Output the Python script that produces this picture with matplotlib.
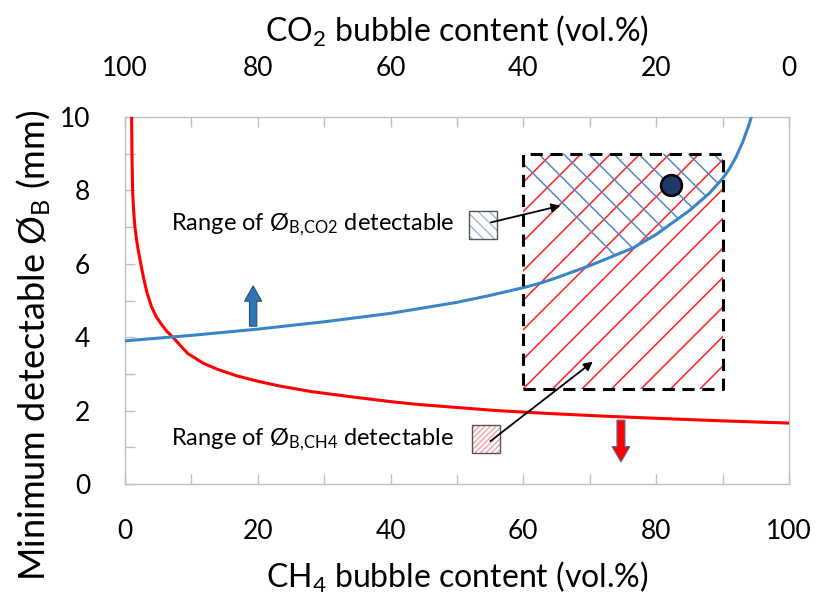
import numpy as np
import matplotlib
matplotlib.use("Agg")
import matplotlib.pyplot as plt
from matplotlib.patches import Rectangle, Polygon

plt.rcParams['font.family'] = ['Lato', 'DejaVu Sans']
plt.rcParams['mathtext.default'] = 'regular'

# CH4 content (vol.%) vs minimum detectable bubble diameter for CH4 (red)
ch4_x = [1.0, 1.05, 1.15, 1.3, 1.5, 1.75, 2.0, 2.4, 2.76, 3.3, 4.0, 4.7, 5.5, 6.3, 7.28, 8.4, 9.5,
         11.8, 14, 16.8, 20, 23.3, 28, 33.9, 40, 44, 48.9, 56, 64, 72, 80, 90, 100]
ch4_d = [10.0, 9.0, 8.0, 7.45, 7.0, 6.65, 6.37, 5.98, 5.65, 5.22, 4.83, 4.56, 4.35, 4.16, 3.99, 3.76, 3.55,
         3.29, 3.12, 2.95, 2.8, 2.67, 2.52, 2.38, 2.245, 2.17, 2.1, 2.0, 1.92, 1.85, 1.79, 1.72, 1.66]

# same x axis (CH4 content), minimum detectable diameter for CO2 (blue)
co2_x = [0, 10, 20, 30, 40, 50, 55, 60, 62.5, 65, 70, 76.5, 80, 85, 88, 90, 91, 92, 93, 94, 95]
co2_d = [3.9, 4.05, 4.22, 4.42, 4.65, 4.95, 5.14, 5.35, 5.47, 5.62, 5.95, 6.43, 6.8, 7.45, 7.92, 8.32,
         8.58, 8.9, 9.3, 9.8, 10.4]

# measurement range box and measured point
box_x = [60, 90]
box_d = [2.6, 9.0]
point = (82.2, 8.15)

x_ticks = [0, 20, 40, 60, 80, 100]
y_ticks = [0, 2, 4, 6, 8, 10]

fig = plt.figure(figsize=(8.19, 5.94), dpi=100)
ax = fig.add_axes([0.1526, 0.1852, 0.8107, 0.6178])
ax.set_xlim(0, 100)
ax.set_ylim(0, 10)

grey = '#bfbfbf'
for s in ax.spines.values():
    s.set_color(grey)
    s.set_linewidth(1.0)

ax.plot(ch4_x, ch4_d, color='#ff0000', lw=2.2, zorder=4, solid_joinstyle='round')
ax.plot(co2_x, co2_d, color='#3a85c7', lw=2.2, zorder=4, solid_joinstyle='round')

# pixel ratio so hatch lines sit at 45 degrees on screen
px = ax.transData.transform((1, 0))[0] - ax.transData.transform((0, 0))[0]
py = ax.transData.transform((0, 1))[1] - ax.transData.transform((0, 0))[1]

x0, x1 = box_x
y0, y1 = box_d
clip_box = Rectangle((x0, y0), x1 - x0, y1 - y0, transform=ax.transData, fill=False, lw=0)
ax.add_patch(clip_box)

# red "/" lines over the whole box
h = (y1 - y0) * py
w = (x1 - x0) * px
step = 29.5
for k in np.arange(-h // step - 1, w // step + 2):
    bx = x0 + k * step / px
    xs = np.array([bx, bx + h / px])
    ys = np.array([y0, y1])
    ln, = ax.plot(xs, ys, color='#ff2020', lw=1.1, zorder=3)
    ln.set_clip_path(clip_box)

# blue "\" lines only above the CO2 curve
sel = [i for i, v in enumerate(co2_x) if x0 <= v <= x1]
poly = [(x0, y1)] + [(co2_x[i], co2_d[i]) for i in sel] + [(x1, y1)]
clip_poly = Polygon(poly, closed=True, transform=ax.transData, fill=False, lw=0)
ax.add_patch(clip_poly)
step_b = 25
for k in np.arange(-1, w // step_b + h // step_b + 2):
    tx = x0 + (15 + k * step_b) / px
    xs = np.array([tx, tx + h / px])
    ys = np.array([y1, y0])
    ln, = ax.plot(xs, ys, color='#5b82c8', lw=1.1, zorder=3)
    ln.set_clip_path(clip_poly)

ax.plot([x0, x1, x1, x0, x0], [y0, y0, y1, y1, y0], color='black', lw=2.2,
        linestyle=(0, (4, 2.5)), zorder=5)

ax.plot(*point, 'o', ms=15, mfc='#1f3a68', mec='black', mew=1.8, zorder=6)

# legend-like squares with text
ax.add_patch(Rectangle((51.8, 6.68), 4.2, 0.76, fc='white', ec='#9db8e0', hatch='\\\\\\', lw=0, zorder=5))
ax.add_patch(Rectangle((51.8, 6.68), 4.2, 0.76, fill=False, ec='#555555', lw=1.0, zorder=6))
ax.add_patch(Rectangle((52.3, 0.84), 4.2, 0.76, fc='white', ec='#f4a0a0', hatch='//////', lw=0, zorder=5))
ax.add_patch(Rectangle((52.3, 0.84), 4.2, 0.76, fill=False, ec='#555555', lw=1.0, zorder=6))

ax.text(49.6, 7.06, r'Range of Ø$_{B,\!CO2}$ detectable', ha='right', va='center', fontsize=17)
ax.text(49.6, 1.2, r'Range of Ø$_{B,\!CH4}$ detectable', ha='right', va='center', fontsize=17)

ax.annotate('', xy=(66.0, 7.6), xytext=(54.7, 7.11),
            arrowprops=dict(arrowstyle='-|>', color='black', lw=1.3, mutation_scale=13), zorder=7)
ax.annotate('', xy=(70.8, 3.38), xytext=(54.7, 1.12),
            arrowprops=dict(arrowstyle='-|>', color='black', lw=1.3, mutation_scale=13), zorder=7)

# thick up / down arrows
ax.arrow(19.3, 4.3, 0, 1.1, width=1.1, head_width=2.6, head_length=0.42,
         length_includes_head=True, fc='#2e75b6', ec='#2b4f7f', lw=0.8, zorder=6)
ax.arrow(74.7, 1.74, 0, -1.14, width=1.2, head_width=2.7, head_length=0.42,
         length_includes_head=True, fc='#ff0000', ec='#5b6b9a', lw=0.8, zorder=6)

# ticks
ax.set_xticks(x_ticks)
ax.set_xticks(np.arange(0, 101, 10), minor=True)
ax.set_yticks(y_ticks)
ax.set_yticks(np.arange(0, 11, 1), minor=True)
ax.tick_params(which='both', direction='in', color=grey, length=7, width=1,
               labelsize=19, pad=25, right=False, top=False)
ax.set_xlabel('CH$_4$ bubble content (vol.%)', fontsize=23, labelpad=12)
ax.set_ylabel('Minimum detectable Ø$_B$ (mm)', fontsize=26)
ax.yaxis.set_label_coords(-0.108, 0.379)

top = ax.twiny()
top.set_xlim(100, 0)
top.set_xticks(x_ticks)
top.set_xticks(np.arange(0, 101, 10), minor=True)
top.tick_params(which='both', direction='in', color=grey, length=7, width=1,
                labelsize=19, pad=26)
for s in top.spines.values():
    s.set_visible(False)
top.set_xlabel('CO$_2$ bubble content (vol.%)', fontsize=23, labelpad=10)

fig.savefig('out.png', dpi=100)
